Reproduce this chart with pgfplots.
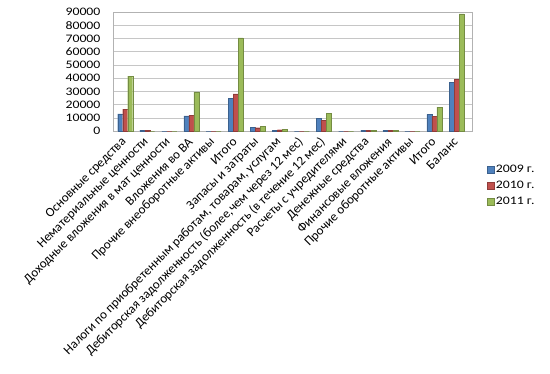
\documentclass[border=0pt]{standalone}
\usepackage{pgfplots}
\pgfplotsset{compat=1.18}
\usepackage{fontspec}
\setmainfont{Carlito}
\newfontfamily\wide[FakeStretch=1.2]{Carlito}
\definecolor{c1}{HTML}{4F81BD}
\definecolor{c2}{HTML}{C0504D}
\definecolor{c3}{HTML}{9BBB59}
\begin{document}
\begin{tikzpicture}[x=1bp,y=1bp]
\useasboundingbox (0,0) rectangle (550,373);
\begin{axis}[
  at={(113bp,242bp)}, anchor=south west,
  width=359bp, height=119bp, scale only axis,
  ymin=0, ymax=90000, ytick={0,10000,...,90000},
  xmin=-0.55, xmax=15.7,
  ybar=0pt, bar width=5bp,
  xtick={0,...,15},
  xticklabels={Основные средства,Нематериальные ценности,Доходные вложения в мат ценности,Вложения во ВА,Прочие внеоборотные активы,Итого,Запасы и затраты,{Налоги по приобретенным работам, товарам, услугам},{Дебиторская задолженность (более,чем через 12 мес)},Дебиторская задолженность (в течение 12 мес),Расчеты с учредителями,Денежные средства,Финансовые вложения,Прочие оборотные активы,Итого,Баланс},
  xticklabel style={rotate=45, anchor=east, font=\fontsize{13bp}{15bp}\selectfont, inner sep=1bp},
  xticklabel shift=4bp,
  yticklabel style={font=\wide\fontsize{11.5bp}{13bp}\selectfont, /pgf/number format/fixed, /pgf/number format/1000 sep={}, /pgf/number format/assume math mode=true},
  yticklabel shift=9bp,
  scaled y ticks=false,
  tick style={draw=none},
  ymajorgrids, grid style={gray!45},
  axis line style={gray!60},
  legend style={at={(1.04,-0.27)}, anchor=north west, draw=none, fill=none, font=\wide\fontsize{11.5bp}{13bp}\selectfont, row sep=3bp, inner sep=0pt},
  legend cell align=left,
  legend image code/.code={\fill[#1] (0bp,-3.5bp) rectangle (7bp,3.5bp);},
]
\addplot[fill=c1, draw=c1!75!black, line width=0.3pt] coordinates {(0,13000) (1,500) (2,0) (3,11500) (4,0) (5,24500) (6,3000) (7,500) (8,0) (9,9500) (10,0) (11,500) (12,500) (13,0) (14,12500) (15,37000)};
\addplot[fill=c2, draw=c2!75!black, line width=0.3pt] coordinates {(0,16500) (1,500) (2,0) (3,12000) (4,0) (5,28000) (6,2500) (7,1000) (8,0) (9,8000) (10,0) (11,500) (12,500) (13,0) (14,11000) (15,39000)};
\addplot[fill=c3, draw=c3!75!black, line width=0.3pt] coordinates {(0,41500) (1,0) (2,0) (3,29500) (4,0) (5,70500) (6,3500) (7,1500) (8,0) (9,13500) (10,0) (11,500) (12,500) (13,0) (14,18000) (15,88500)};
\legend{2009 г.,2010 г.,2011 г.}
\end{axis}
\end{tikzpicture}
\end{document}
